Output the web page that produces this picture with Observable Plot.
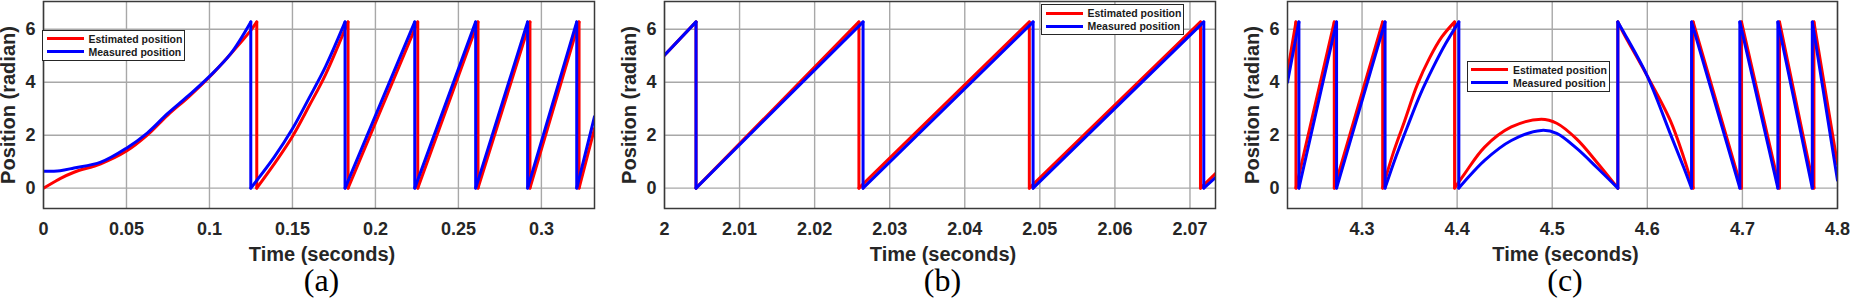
<!DOCTYPE html>
<html>
<head>
<meta charset="utf-8">
<script src="https://cdn.jsdelivr.net/npm/d3@7"></script>
<script src="https://cdn.jsdelivr.net/npm/@observablehq/plot@0.6"></script>
<style>
  html, body { margin: 0; padding: 0; background: #fff; }
  body { width: 1850px; height: 300px; position: relative; overflow: hidden;
         font-family: "Liberation Sans", Arial, sans-serif; }
  .panel { position: absolute; top: 0; }
  .panel svg text { font-weight: bold; }
  .cap { position: absolute; top: 266px; width: 80px; height: 28px; line-height: 28px;
         font-family: "Liberation Serif", "Times New Roman", serif; font-size: 32px;
         text-align: center; color: #000; }
  .legend { position: absolute; box-sizing: border-box; width: 143px; height: 31px;
            border: 1px solid #262626; background: #fff; }
  .legend .sw { position: absolute; left: 3.5px; width: 37px; height: 3px; }
  .legend .lt { position: absolute; left: 45.5px; height: 12px; line-height: 12px;
                font-size: 10.5px; font-weight: bold; color: #1a1a1a; white-space: nowrap; }
</style>
</head>
<body>
<script>
// ---------- data (time in seconds, position in radians) ----------
const seriesNames = ["Estimated position", "Measured position"];
const seriesColors = ["#ff0000", "#0000ff"];
const yTicks = [0, 2, 4, 6];

// panel (a)
const aTicks = [0, 0.05, 0.1, 0.15, 0.2, 0.25, 0.3];
const aEstimated = [[0,0],[0.0064,0.23],[0.01,0.36],[0.0184,0.6],[0.0345,0.92],[0.05,1.4],[0.0625,2.0],[0.0747,2.75],[0.0875,3.45],[0.1,4.2],[0.1125,5.05],[0.1249,5.96],[0.1285,6.28],[0.1285,0],
  [0.14,1.0],[0.15,1.95],[0.16,3.1],[0.17,4.3],[0.1835,6.28],[0.1835,0],[0.2255,6.28],[0.2255,0],[0.2618,6.28],[0.2618,0],[0.2931,6.28],[0.2931,0],[0.3227,6.28],[0.3227,0],[0.332,2.25]];
const aMeasured = [[0,0.64],[0.01,0.66],[0.0184,0.76],[0.0345,0.98],[0.05,1.51],[0.0625,2.08],[0.0747,2.81],[0.0875,3.5],[0.1,4.22],[0.1128,5.08],[0.1249,6.28],[0.1249,0],
  [0.139,1.17],[0.15,2.24],[0.16,3.4],[0.17,4.6],[0.1817,6.28],[0.1817,0],[0.2237,6.28],[0.2237,0],[0.2604,6.28],[0.2604,0],[0.2917,6.28],[0.2917,0],[0.3213,6.28],[0.3213,0],[0.332,2.7]];

// panel (b)
const bTicks = [2, 2.01, 2.02, 2.03, 2.04, 2.05, 2.06, 2.07];
const bEstimated = [[2,5.02],[2.0042,6.28],[2.0042,0],[2.0259,6.28],[2.0259,0],[2.0486,6.28],[2.0486,0],[2.0714,6.28],[2.0714,0],[2.0734,0.55]];
const bMeasured = [[2,5.02],[2.0042,6.28],[2.0042,0],[2.02645,6.28],[2.02645,0],[2.0491,6.28],[2.0491,0],[2.07184,6.28],[2.07184,0],[2.0734,0.4]];

// panel (c)
const cTicks = [4.3, 4.4, 4.5, 4.6, 4.7, 4.8];
const cEstimated = [[4.2216,4.39],[4.2305,6.28],[4.2305,0],[4.2708,6.28],[4.2708,0],[4.3217,6.28],[4.3217,0],
  [4.333,1.35],[4.3444,2.5],[4.358,3.9],[4.3708,4.9],[4.3837,5.7],[4.3973,6.28],[4.3973,0],
  [4.4078,0.54],[4.4289,1.55],[4.457,2.31],[4.4886,2.6],[4.5047,2.45],[4.5258,1.85],[4.5469,0.98],[4.569,0],[4.569,6.28],
  [4.575,5.85],[4.5996,4.26],[4.6241,2.56],[4.6382,1.17],[4.6482,0],[4.6482,6.28],[4.699,0],[4.699,6.28],[4.739,0],[4.739,6.28],[4.7752,0],[4.7752,6.28],[4.8,0.9]];
const cMeasured = [[4.2216,4.0],[4.2336,6.28],[4.2336,0],[4.2732,6.28],[4.2732,0],[4.3242,6.28],[4.3242,0],
  [4.3358,1.2],[4.3475,2.3],[4.3614,3.55],[4.3746,4.55],[4.3878,5.45],[4.4018,6.28],[4.4018,0],
  [4.4078,0.25],[4.4289,1.05],[4.457,1.8],[4.4886,2.18],[4.5047,2.07],[4.5258,1.5],[4.5469,0.78],[4.569,0],[4.569,6.28],
  [4.575,5.9],[4.5996,4.26],[4.6241,2.06],[4.6382,0.79],[4.6465,0],[4.6465,6.28],[4.6973,0],[4.6973,6.28],[4.7373,0],[4.7373,6.28],[4.7735,0],[4.7735,6.28],[4.8,0.3]];

// ---------- layout ----------
const panels = [
  {id: "(a)", left: 0,    width: 614, mr: 20, domain: [0, 0.332],    ticks: aTicks, est: aEstimated, mea: aMeasured, legend: [42, 29.5]},
  {id: "(b)", left: 621,  width: 614, mr: 20, domain: [2, 2.0734],   ticks: bTicks, est: bEstimated, mea: bMeasured, legend: [1041, 4]},
  {id: "(c)", left: 1244, width: 606, mr: 13, domain: [4.2216, 4.8], ticks: cTicks, est: cEstimated, mea: cMeasured, legend: [1466.5, 60.5]}
];

const ML = 43, MT = 1, MB = 60, H = 268;
const fmt = d3.format("~g");

// split a series into smooth pieces (between wraps) and the vertical wrap jumps
function splitSeries(arr) {
  const rows = [], jumps = [];
  let seg = 0;
  arr.forEach(([t, v], i) => {
    if (i > 0 && t === arr[i - 1][0]) {
      jumps.push({t, v1: arr[i - 1][1], v2: v});
      seg++;
    }
    rows.push({t, v, seg});
  });
  return {rows, jumps};
}

function seriesMarks(arr, color) {
  const {rows, jumps} = splitSeries(arr);
  return [
    Plot.line(rows, {x: "t", y: "v", z: "seg", curve: "catmull-rom", stroke: color, strokeWidth: 3, clip: true}),
    Plot.link(jumps, {x1: "t", x2: "t", y1: "v1", y2: "v2", stroke: color, strokeWidth: 3, strokeLinecap: "round", clip: true})
  ];
}

for (const p of panels) {
  const chart = Plot.plot({
    width: p.width, height: H,
    marginLeft: ML, marginRight: p.mr, marginTop: MT, marginBottom: MB,
    x: {domain: p.domain, label: null, axis: null},
    y: {domain: [-0.77, 7.05], label: null, axis: null},
    style: {fontFamily: '"Liberation Sans", Arial, sans-serif', color: "#262626", background: "transparent", overflow: "visible"},
    marks: [
      Plot.gridX(p.ticks, {stroke: "#a8a8a8", strokeOpacity: 1, strokeWidth: 1.4}),
      Plot.gridY(yTicks, {stroke: "#a8a8a8", strokeOpacity: 1, strokeWidth: 1.4}),
      ...seriesMarks(p.est, seriesColors[0]),
      ...seriesMarks(p.mea, seriesColors[1]),
      Plot.frame({stroke: "#3a3a3a", strokeWidth: 1.5}),
      Plot.axisX(p.ticks, {tickSize: 0, tickPadding: 14, fontSize: 18, fontWeight: "bold", tickFormat: fmt, label: null}),
      Plot.axisY(yTicks, {tickSize: 0, tickPadding: 8, fontSize: 18, fontWeight: "bold", tickFormat: fmt, label: null}),
      Plot.text(["Position (radian)"], {frameAnchor: "left", dx: -34.5, rotate: -90, textAnchor: "middle", lineAnchor: "middle", fontSize: 20, fontWeight: "bold", fill: "#262626"}),
      Plot.text(["Time (seconds)"], {frameAnchor: "bottom", dx: 3, dy: 46, textAnchor: "middle", lineAnchor: "middle", fontSize: 20, fontWeight: "bold", fill: "#262626"})
    ]
  });
  const div = document.createElement("div");
  div.className = "panel";
  div.style.left = p.left + "px";
  div.appendChild(chart);
  document.body.appendChild(div);

  // caption below the chart
  const cap = document.createElement("div");
  cap.className = "cap";
  const frameCenter = p.left + ML + (p.width - ML - p.mr) / 2 + 3;
  cap.style.left = (frameCenter - 40) + "px";
  cap.textContent = p.id;
  document.body.appendChild(cap);

  // legend
  const lg = document.createElement("div");
  lg.className = "legend";
  lg.style.left = p.legend[0] + "px";
  lg.style.top = p.legend[1] + "px";
  seriesNames.forEach((name, i) => {
    const cy = i === 0 ? 8 : 21.3;
    const sw = document.createElement("div");
    sw.className = "sw";
    sw.style.top = (cy - 1.5) + "px";
    sw.style.background = seriesColors[i];
    const lt = document.createElement("div");
    lt.className = "lt";
    lt.style.top = (cy - 6) + "px";
    lt.textContent = name;
    lg.appendChild(sw);
    lg.appendChild(lt);
  });
  document.body.appendChild(lg);
}
</script>
</body>
</html>
